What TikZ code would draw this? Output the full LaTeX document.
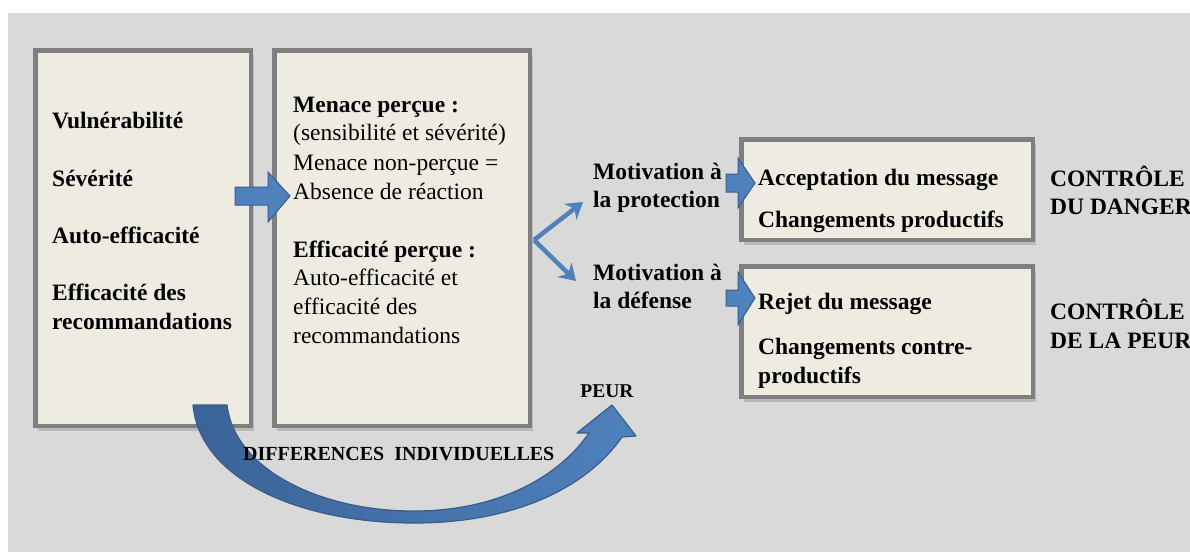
\documentclass[tikz,border=0pt]{standalone}
\usepackage{fontspec}
\setmainfont{Liberation Serif}
\usetikzlibrary{shadows,arrows.meta}
\definecolor{bggray}{HTML}{D9D9D9}
\definecolor{boxfill}{HTML}{EEECE1}
\definecolor{boxline}{HTML}{7F7F7F}
\definecolor{arrblue}{HTML}{4F81BD}
\definecolor{arrdark}{HTML}{385D8A}
\definecolor{curvedark}{HTML}{3A6398}
\begin{document}
\begin{tikzpicture}[x=1pt,y=-1pt,
  box/.style={draw=boxline, line width=4.5pt, fill=boxfill, inner sep=0pt,
    drop shadow={opacity=0.35, shadow xshift=3pt, shadow yshift=-5pt}},
  txt/.style={anchor=base west, inner sep=0pt, font=\fontsize{23.5}{28}\selectfont},
  btxt/.style={txt, font=\fontsize{23.5}{28}\selectfont\bfseries},
  blockarrow/.style={fill=arrblue, draw=arrdark, line width=1pt},
  vline/.style={draw=arrblue, line width=4.5pt, -{Stealth[length=16pt,width=20pt]}}]
\useasboundingbox (0,0) rectangle (1190,552);
\clip (0,0) rectangle (1190,552);
\fill[white] (0,0) rectangle (1190,552);
\fill[bggray] (8,13) rectangle (1190,552);

% boxes
\node[box, minimum width=215.5pt, minimum height=375.5pt] (b1) at (143,238) {};
\node[box, minimum width=255.5pt, minimum height=375.5pt] (b2) at (402,238) {};
\node[box, minimum width=291.5pt, minimum height=100.5pt] (b3) at (887,189.5) {};
\node[box, minimum width=291.5pt, minimum height=130.5pt] (b4) at (887,331.5) {};

% box 1 text
\node[btxt] (t11) at (52,128) {Vulnérabilité};
\node[btxt] (t12) at (52,186) {Sévérité};
\node[btxt] (t13) at (52,243) {Auto-efficacité};
\node[btxt] (t14) at (52,300) {Efficacité des};
\node[btxt] (t15) at (52,329) {recommandations};

% box 2 text
\node[btxt] (t21) at (293,112) {Menace perçue :};
\node[txt] (t22) at (293,140) {(sensibilité et sévérité)};
\node[txt] (t23) at (293,170) {Menace non-perçue =};
\node[txt] (t24) at (293,199) {Absence de réaction};
\node[btxt] (t25) at (293,257) {Efficacité perçue :};
\node[txt] (t26) at (293,285) {Auto-efficacité et};
\node[txt] (t27) at (293,314) {efficacité des};
\node[txt] (t28) at (293,343) {recommandations};

% motivations
\node[btxt] (m1) at (593,179) {Motivation à};
\node[btxt] (m2) at (593,207) {la protection};
\node[btxt] (m3) at (593,280) {Motivation à};
\node[btxt] (m4) at (593,308) {la défense};

% box 3 and 4 text
\node[btxt] (t31) at (758,185) {Acceptation du message};
\node[btxt] (t32) at (758,227) {Changements productifs};
\node[btxt] (t41) at (758,309) {Rejet du message};
\node[btxt] (t42) at (758,354) {Changements contre-};
\node[btxt] (t43) at (758,383) {productifs};

% controls
\node[btxt] (c1) at (1050,186) {CONTRÔLE};
\node[btxt] (c2) at (1050,214) {DU DANGER};
\node[btxt] (c3) at (1050,319) {CONTRÔLE};
\node[btxt] (c4) at (1050,348) {DE LA PEUR};

% block arrows
\draw[blockarrow] (235,187) -- (268,187) -- (268,172) -- (290,196) -- (268,222) -- (268,205) -- (235,205) -- cycle;
\draw[blockarrow] (726,174) -- (738,174) -- (738,158) -- (755,183) -- (738,208) -- (738,192) -- (726,192) -- cycle;
\draw[blockarrow] (726,290) -- (738,290) -- (738,272) -- (755,298) -- (738,325) -- (738,306) -- (726,306) -- cycle;

% V arrows
\coordinate (v) at (534,240);
\coordinate (vu) at (583,202);
\coordinate (vd) at (576,281);
\draw[vline] (v) -- (vu);
\draw[vline] (v) -- (vd);

% curved arrow
\draw[left color=curvedark, right color=arrblue, draw=arrdark, line width=1.2pt, line join=round]
  (193,405) -- (227,405)
  .. controls (235,470) and (320,510) .. (410,511)
  .. controls (500,512) and (560,475) .. (589,433)
  -- (577,433) -- (612,405) -- (636,436) -- (622,437)
  .. controls (585,490) and (510,524) .. (410,523)
  .. controls (300,522) and (200,480) .. (193,405) -- cycle;

\node[anchor=base, inner sep=0pt, font=\fontsize{19.5}{22}\selectfont\bfseries] (peur) at (607,397) {PEUR};
\node[anchor=base west, inner sep=0pt, font=\fontsize{20}{24}\selectfont\bfseries] (diff) at (243,460) {DIFFERENCES\ \ INDIVIDUELLES};
\end{tikzpicture}
\end{document}
